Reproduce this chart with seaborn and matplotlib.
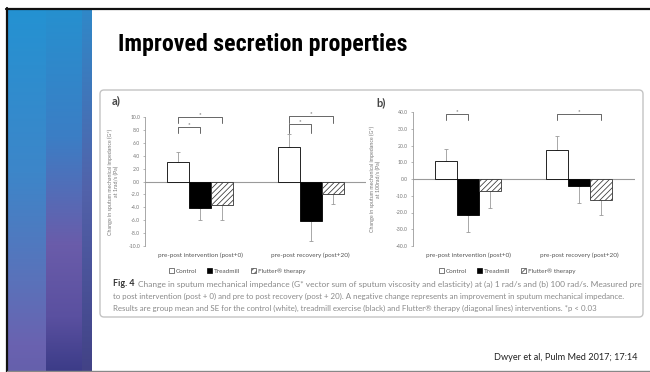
import numpy as np
import pandas as pd
import matplotlib
matplotlib.use("Agg")
import matplotlib.pyplot as plt
from matplotlib import font_manager
from matplotlib.font_manager import FontProperties
from matplotlib.patches import Patch, FancyBboxPatch
from matplotlib.lines import Line2D
from matplotlib.colors import to_rgb
import seaborn as sns

# ---- data -------------------------------------------------------------
groups = ["pre-post intervention (post+0)", "pre-post recovery (post+20)"]
interventions = ["Control", "Treadmill", "Flutter\u00ae therapy"]

# (a) G* at 1 rad/s (Pa): group means and SE
a_control = [3.1, 5.4]
a_treadmill = [-4.1, -6.2]
a_flutter = [-3.6, -1.9]
a_control_se = [1.4, 2.0]
a_treadmill_se = [1.8, 3.0]
a_flutter_se = [2.3, 1.6]

# (b) G* at 100 rad/s (Pa)
b_control = [10.6, 17.5]
b_treadmill = [-21.3, -4.4]
b_flutter = [-7.4, -12.3]
b_control_se = [7.5, 8.0]
b_treadmill_se = [10.5, 10.0]
b_flutter_se = [10.0, 9.0]

a_ticks = [10.0, 8.0, 6.0, 4.0, 2.0, 0.0, -2.0, -4.0, -6.0, -8.0, -10.0]
b_ticks = [40.0, 30.0, 20.0, 10.0, 0.0, -10.0, -20.0, -30.0, -40.0]

# significance brackets: (group, first bar, second bar, bracket level, leg level)
a_brackets = [(0, 0, 1, 8.5, 7.5), (0, 0, 2, 10.0, 9.1),
              (1, 0, 1, 8.9, 7.5), (1, 0, 2, 10.2, 9.0)]
b_brackets = [(0, 0, 1, 39.0, 35.4), (1, 0, 2, 39.0, 35.4)]

title = "Improved secretion properties"
caption = [
    "Change in sputum mechanical impedance (G* vector sum of sputum viscosity and elasticity) at (a) 1 rad/s and (b) 100 rad/s. Measured pre",
    "to post intervention (post + 0) and pre to post recovery (post + 20). A negative change represents an improvement in sputum mechanical impedance.",
    "Results are group mean and SE for the control (white), treadmill exercise (black) and Flutter\u00ae therapy (diagonal lines) interventions. *p < 0.03",
]
reference = "Dwyer et al, Pulm Med 2017; 17:14"

# ---- styling ----------------------------------------------------------
sns.set_theme(style="white")
avail = {f.name for f in font_manager.fontManager.ttflist}
body_font = "Lato" if "Lato" in avail else "DejaVu Sans"
plt.rcParams["font.family"] = [body_font, "DejaVu Sans"]
plt.rcParams["hatch.linewidth"] = 0.55


def narrow_bold_font():
    """Pick the narrowest bold sans face that is installed."""
    prefs = ["LiberationSansNarrow-Bold", "RobotoCondensed-Bold", "OpenSansCondensed-Bold",
             "NotoSans-CondensedBold", "DejaVuSansCondensed-Bold"]
    files = [f.fname for f in font_manager.fontManager.ttflist]
    for key in prefs:
        for fn in files:
            if key.lower() in fn.replace(" ", "").lower():
                return FontProperties(fname=fn)
    return FontProperties(family="Liberation Sans", weight="bold")


W, H = 650, 372
fig = plt.figure(figsize=(W / 100, H / 100), dpi=100)
fig.patch.set_facecolor("white")


def fx(x):
    return x / W


def fy(y):
    return 1 - y / H


# ---- slide decoration: gradient stripes on the left --------------------
def ramp(stops, n):
    ys = np.linspace(0, 1, n)
    pos = [p for p, _ in stops]
    cols = np.array([to_rgb(c) for _, c in stops])
    return np.stack([np.interp(ys, pos, cols[:, k]) for k in range(3)], axis=1)


stripe_h = 361
s1 = ramp([(0, "#2492d2"), (0.45, "#3d86c9"), (0.75, "#5a72ba"), (0.93, "#6a62b0"), (1, "#6560ac")], stripe_h)
s2 = ramp([(0, "#2690cf"), (0.35, "#3b7ec5"), (0.65, "#6a5caa"), (0.85, "#5a50a0"), (1, "#3c3c88")], stripe_h)
s3 = ramp([(0, "#3088c8"), (0.5, "#5262aa"), (1, "#424286")], stripe_h)
img = np.concatenate([np.repeat(s1[:, None, :], 38, axis=1),
                      np.repeat(s2[:, None, :], 36, axis=1),
                      np.repeat(s3[:, None, :], 10, axis=1)], axis=1)
ax_bg = fig.add_axes([fx(8), fy(371), fx(84), 361 / H])
ax_bg.imshow(img, aspect="auto", interpolation="bilinear")
ax_bg.axis("off")

fig.add_artist(Line2D([fx(6), 1], [fy(9), fy(9)], color="#111111", lw=1.6))
fig.add_artist(Line2D([fx(7), fx(7)], [fy(8), 0], color="#111111", lw=1.6))
fig.add_artist(Line2D([fx(7), 1], [fy(371.3), fy(371.3)], color="#888888", lw=1.0))

# slide title, sized to its measured width
tfp = narrow_bold_font()
tfp.set_weight("bold")
tfp.set_size(22)
t_title = fig.text(fx(118), fy(45), title, fontproperties=tfp, color="black",
                   va="center", ha="left")
fig.canvas.draw()
r = fig.canvas.get_renderer()
tw = t_title.get_window_extent(renderer=r).width
tfp.set_size(max(17.0, min(24.0, 22 * 288 / tw)))
t_title.set_fontproperties(tfp)

# figure panel box, behind the charts
box = FancyBboxPatch((100 / 100, (H - 317) / 100), 543 / 100, 227 / 100,
                     boxstyle="round,pad=0,rounding_size=0.04",
                     transform=fig.dpi_scale_trans, facecolor="white",
                     edgecolor="#c4c4c4", lw=1.0, zorder=-10)
fig.add_artist(box)

text_col = "#555555"
pal = {"Control": "white", "Treadmill": "black", "Flutter\u00ae therapy": "white"}
hatch = "//////"


def long_frame(ctrl, tread, flut):
    rows = []
    for name, vals in zip(interventions, [ctrl, tread, flut]):
        for g, v in zip(groups, vals):
            rows.append({"group": g, "intervention": name, "value": v})
    return pd.DataFrame(rows)


def draw_panel(rect, means, ses, ticks, ylim, brackets, letter, letter_xy, ylabel, ylabel_x, legend_x):
    ax = fig.add_axes(rect)
    ax.set_facecolor("none")
    df = long_frame(*means)
    sns.barplot(data=df, x="group", y="value", hue="intervention", order=groups,
                hue_order=interventions, palette=pal, width=0.6, errorbar=None,
                edgecolor="black", linewidth=0.6, legend=False, ax=ax, zorder=3)
    bars = list(ax.patches)
    for p in bars[4:6]:
        p.set_hatch(hatch)
        p.set_edgecolor("#333333")
    # one-sided standard errors drawn away from zero
    for k, (vals, errs) in enumerate(zip(means, ses)):
        for j, (v, e) in enumerate(zip(vals, errs)):
            p = bars[k * 2 + j]
            xc = p.get_x() + p.get_width() / 2
            yerr = [[0], [e]] if v >= 0 else [[e], [0]]
            ax.errorbar([xc], [v], yerr=yerr, fmt="none", ecolor="#9a9a9a",
                        elinewidth=0.6, capsize=1.4, capthick=0.6, zorder=2)
    ax.set_xlim(-0.5, 1.5)
    ax.set_ylim(*ylim)
    ax.axhline(0, color="#9a9a9a", lw=0.8, zorder=1)
    for s in ["top", "right", "bottom"]:
        ax.spines[s].set_visible(False)
    ax.spines["left"].set_color("#9a9a9a")
    ax.spines["left"].set_linewidth(0.6)
    ax.set_yticks(ticks)
    ax.set_yticklabels([f"{t:.1f}" for t in ticks])
    ax.tick_params(axis="y", labelsize=3.7, labelcolor="#777777", length=1.5,
                   width=0.5, color="#9a9a9a", pad=2, left=True)
    ax.tick_params(axis="x", labelsize=4.6, labelcolor=text_col, length=0, pad=5)
    ax.set_xlabel("")
    ax.set_ylabel(ylabel, fontsize=3.8, color="#777777", linespacing=1.3)
    ax.yaxis.set_label_coords(ylabel_x, 0.5)
    # significance brackets
    for g, i, j, top, leg in brackets:
        p1, p2 = bars[i * 2 + g], bars[j * 2 + g]
        x1 = p1.get_x() + p1.get_width() / 2
        x2 = p2.get_x() + p2.get_width() / 2
        ax.plot([x1, x1, x2, x2], [leg, top, top, leg], color="#666666", lw=0.7,
                clip_on=False, zorder=4)
        ax.text((x1 + x2) / 2, top, "*", ha="center", va="bottom", fontsize=4.5,
                color="#555555", clip_on=False)
    fig.text(letter_xy[0], letter_xy[1], letter, fontsize=8, fontweight="bold",
             color="#444444", ha="left", va="center")
    handles = [Patch(facecolor="white", edgecolor="#444444", lw=0.5),
               Patch(facecolor="black", edgecolor="black", lw=0.5),
               Patch(facecolor="white", edgecolor="#444444", lw=0.5, hatch=hatch)]
    fig.legend(handles, interventions, loc="center", bbox_to_anchor=(legend_x, fy(271)),
               ncol=3, frameon=False, fontsize=4.6, handlelength=0.8, handleheight=0.8,
               handletextpad=0.3, columnspacing=1.6, labelcolor=text_col)
    return ax


ax_a = draw_panel([fx(145), fy(246), fx(221), 129 / H],
                  (a_control, a_treadmill, a_flutter),
                  (a_control_se, a_treadmill_se, a_flutter_se),
                  a_ticks, (-10, 10), a_brackets, "a)", (fx(112), fy(101)),
                  "Change in sputum mechanical impedance (G*)\nat 1rad/s (Pa)", -0.115, fx(237))
ax_b = draw_panel([fx(412.5), fy(246), fx(222), 134 / H],
                  (b_control, b_treadmill, b_flutter),
                  (b_control_se, b_treadmill_se, b_flutter_se),
                  b_ticks, (-40, 40), b_brackets, "b)", (fx(376), fy(103)),
                  "Change in sputum mechanical impedance (G*)\nat 100rad/s (Pa)", -0.14, fx(507))

# caption: the first line is set a touch larger than the rest
fig.canvas.draw()
r = fig.canvas.get_renderer()
t0 = fig.text(fx(113), fy(284), "Fig. 4", fontsize=6.4, fontweight="bold",
              color="#333333", va="center", ha="left")
bb = t0.get_window_extent(renderer=r)
fig.text(fx(bb.x1 + 3), fy(284), caption[0], fontsize=6.0, color="#8a8a8a",
         va="center", ha="left")
fig.text(fx(113), fy(296), caption[1], fontsize=5.7, color="#8a8a8a", va="center", ha="left")
fig.text(fx(113), fy(308), caption[2], fontsize=5.65, color="#8a8a8a", va="center", ha="left")

fig.text(fx(638), fy(357), reference, fontsize=6.6, color="#222222", ha="right", va="center")

fig.savefig("out.png", dpi=100, facecolor="white")
